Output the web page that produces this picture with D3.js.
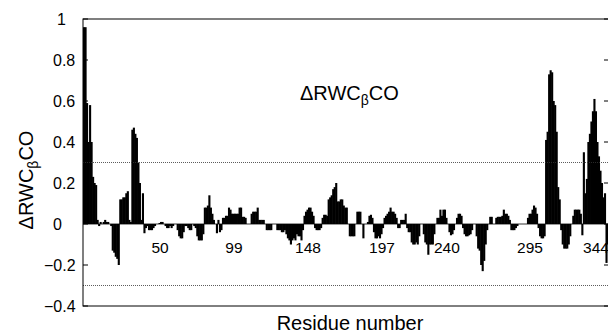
<!DOCTYPE html>
<html>
<head>
<meta charset="utf-8">
<script src="https://cdn.jsdelivr.net/npm/d3@7"></script>
<style>
  body { margin: 0; background: #fff; }
  svg { display: block; }
  text { font-family: "Liberation Sans", Arial, Helvetica, sans-serif; fill: #000; }
</style>
</head>
<body>
<div id="chart"></div>
<script>
// ΔRWCβCO per residue (residues 1..349)
const dRWC = [
  0.96, 0.96, 0.59, 0.40, 0.58, 0.40, 0.23, 0.20, 0.19, 0.02,
  -0.01, 0.01, 0.00, 0.01, 0.02, 0.01, 0.01, 0.00, -0.01, -0.13,
  -0.14, -0.16, -0.17, -0.20, 0.12, 0.12, 0.13, 0.13, 0.15, 0.16,
  0.02, 0.01, 0.46, 0.47, 0.44, 0.42, 0.30, 0.20, 0.02, 0.15,
  -0.045, -0.02, -0.01, -0.03, -0.03, -0.03, -0.02, -0.01, 0.00, 0.00,
  0.005, 0.01, 0.01, 0.00, -0.01, -0.02, -0.02, -0.01, -0.02, -0.01,
  0.00, 0.00, -0.03, -0.06, -0.07, -0.07, -0.04, -0.01, -0.01, -0.02,
  -0.03, -0.03, 0.00, -0.01, -0.02, -0.06, -0.08, -0.08, -0.08, -0.05,
  0.08, 0.08, 0.09, 0.14, 0.08, 0.05, 0.02, 0.00, -0.045, 0.02,
  -0.04, -0.03, 0.03, 0.03, 0.04, 0.04, 0.08, 0.07, 0.05, 0.05,
  0.05, 0.05, 0.05, 0.08, 0.08, 0.035, 0.035, 0.03, 0.00, 0.00,
  0.00, 0.05, 0.06, 0.06, 0.06, 0.08, 0.02, 0.02, 0.02, 0.02,
  0.00, -0.03, -0.03, -0.03, -0.03, 0.00, 0.00, 0.00, -0.03, -0.03,
  -0.03, -0.04, -0.04, -0.03, -0.05, -0.07, -0.08, -0.10, -0.08, -0.07,
  -0.08, -0.05, -0.06, -0.06, -0.08, -0.03, 0.04, 0.06, 0.07, 0.08,
  0.08, 0.06, 0.04, -0.02, -0.03, -0.03, -0.03, -0.02, 0.03, 0.045,
  0.045, 0.04, 0.12, 0.13, 0.14, 0.17, 0.18, 0.20, 0.11, 0.11,
  0.12, 0.12, 0.09, 0.08, 0.08, 0.00, -0.06, -0.06, -0.06, -0.06,
  0.00, 0.06, 0.06, 0.06, 0.00, -0.07, 0.00, 0.00, 0.01, 0.04,
  0.045, 0.03, -0.04, -0.07, -0.07, -0.06, -0.07, -0.05, -0.02, 0.03,
  0.04, 0.05, 0.06, 0.08, 0.06, 0.06, 0.05, 0.03, -0.02, -0.02,
  0.02, 0.02, 0.02, 0.05, -0.02, -0.04, -0.04, -0.09, -0.10, -0.10,
  -0.09, -0.10, -0.06, 0.00, 0.00, -0.05, -0.09, -0.10, -0.15, -0.10,
  -0.10, -0.10, -0.05, 0.00, 0.03, 0.03, 0.07, 0.04, 0.07, 0.07,
  0.03, 0.00, -0.04, -0.055, -0.05, -0.03, 0.00, 0.03, 0.05, 0.05,
  0.04, -0.02, -0.05, -0.06, -0.06, -0.055, -0.05, -0.03, 0.00, 0.00,
  -0.06, -0.12, -0.13, -0.20, -0.23, -0.18, -0.10, -0.03, 0.00, 0.035,
  0.035, 0.00, 0.00, 0.03, 0.035, 0.035, 0.035, 0.04, 0.07, 0.05,
  0.05, 0.04, 0.02, -0.03, -0.03, -0.03, -0.02, -0.01, 0.00, 0.00,
  0.00, 0.00, 0.00, 0.00, 0.03, 0.05, 0.05, 0.07, 0.09, 0.08,
  0.05, -0.02, -0.06, -0.07, -0.07, -0.06, 0.41, 0.45, 0.73, 0.75,
  0.74, 0.60, 0.58, 0.45, 0.18, 0.12, -0.03, -0.10, -0.12, -0.12,
  -0.12, -0.10, -0.06, 0.00, 0.04, 0.07, 0.07, 0.07, 0.07, 0.05,
  -0.055, 0.35, 0.15, 0.22, 0.40, 0.44, 0.50, 0.55, 0.61, 0.55,
  0.40, 0.33, 0.26, 0.20, 0.13, 0.15, -0.19, -0.10, -0.05
];
const yTicks = [-0.4, -0.2, 0, 0.2, 0.4, 0.6, 0.8, 1];
const residueLabels = [50, 99, 148, 197, 240, 295, 344];
const thresholds = [0.3, -0.3];

const width = 608, height = 333;
const plotLeft = 83, plotRight = 610, plotTop = 19, plotBottom = 306;

const svg = d3.select("#chart").append("svg")
  .attr("width", width)
  .attr("height", height);

const x = d3.scaleLinear().domain([0, dRWC.length]).range([plotLeft, plotRight]);
const y = d3.scaleLinear().domain([-0.4, 1]).range([plotBottom, plotTop]);
const fmt = d3.format("~g"); // uses the unicode minus sign

// bars (slight overlap so neighbours merge into solid blocks)
svg.append("g")
  .selectAll("rect")
  .data(dRWC)
  .enter()
  .append("rect")
  .attr("x", (d, i) => x(i))
  .attr("width", (d, i) => x(i + 1) - x(i) + 0.6)
  .attr("y", d => y(Math.max(0, d)))
  .attr("height", d => Math.abs(y(d) - y(0)))
  .attr("fill", "#000");

// zero line
svg.append("line")
  .attr("x1", plotLeft).attr("x2", plotRight)
  .attr("y1", y(0)).attr("y2", y(0))
  .attr("stroke", "#000").attr("stroke-width", 0.8);

// dotted threshold lines
svg.selectAll(".thr")
  .data(thresholds)
  .enter()
  .append("line")
  .attr("class", "thr")
  .attr("x1", plotLeft).attr("x2", plotRight)
  .attr("y1", d => y(d)).attr("y2", d => y(d))
  .attr("stroke", "#333")
  .attr("stroke-width", 0.8)
  .attr("stroke-dasharray", "1,1");

// frame
svg.append("rect")
  .attr("x", plotLeft).attr("y", plotTop)
  .attr("width", plotRight - plotLeft).attr("height", plotBottom - plotTop)
  .attr("fill", "none")
  .attr("stroke", "#000")
  .attr("stroke-width", 1);

// inward ticks on both sides
const ticks = svg.append("g");
ticks.selectAll(".tl")
  .data(yTicks)
  .enter()
  .append("line")
  .attr("x1", plotLeft).attr("x2", plotLeft + 5)
  .attr("y1", d => y(d)).attr("y2", d => y(d))
  .attr("stroke", "#000");
ticks.selectAll(".tr")
  .data(yTicks)
  .enter()
  .append("line")
  .attr("x1", plotRight - 6).attr("x2", plotRight)
  .attr("y1", d => y(d)).attr("y2", d => y(d))
  .attr("stroke", "#000");

// y tick labels (left aligned, minus sign hanging to the left)
svg.append("g")
  .selectAll("text")
  .data(yTicks)
  .enter()
  .append("text")
  .attr("x", d => d < 0 ? 44 : (d === 1 ? 57 : 53))
  .attr("y", d => y(d))
  .attr("dy", "0.36em")
  .attr("font-size", 16)
  .attr("text-anchor", "start")
  .text(d => fmt(d));

// residue number labels just under the zero line
svg.append("g")
  .selectAll("text")
  .data(residueLabels)
  .enter()
  .append("text")
  .attr("x", d => Math.min(x(d) + 1.5, 596))
  .attr("y", 253)
  .attr("font-size", 15.5)
  .attr("text-anchor", "middle")
  .text(d => d);

// title inside the plot
const title = svg.append("text")
  .attr("x", 300)
  .attr("y", 100)
  .attr("font-size", 20);
title.append("tspan").text("ΔRWC");
title.append("tspan").attr("font-size", 14).attr("dy", 5).text("β");
title.append("tspan").attr("dy", -5).text("CO");

// y axis title
const ylab = svg.append("text")
  .attr("transform", "translate(33,180) rotate(-90)")
  .attr("text-anchor", "middle")
  .attr("font-size", 20);
ylab.append("tspan").text("ΔRWC");
ylab.append("tspan").attr("font-size", 14).attr("dy", 5).text("β");
ylab.append("tspan").attr("dy", -5).text("CO");

// x axis title
svg.append("text")
  .attr("x", 350)
  .attr("y", 330)
  .attr("font-size", 20)
  .attr("text-anchor", "middle")
  .text("Residue number");
</script>
</body>
</html>
